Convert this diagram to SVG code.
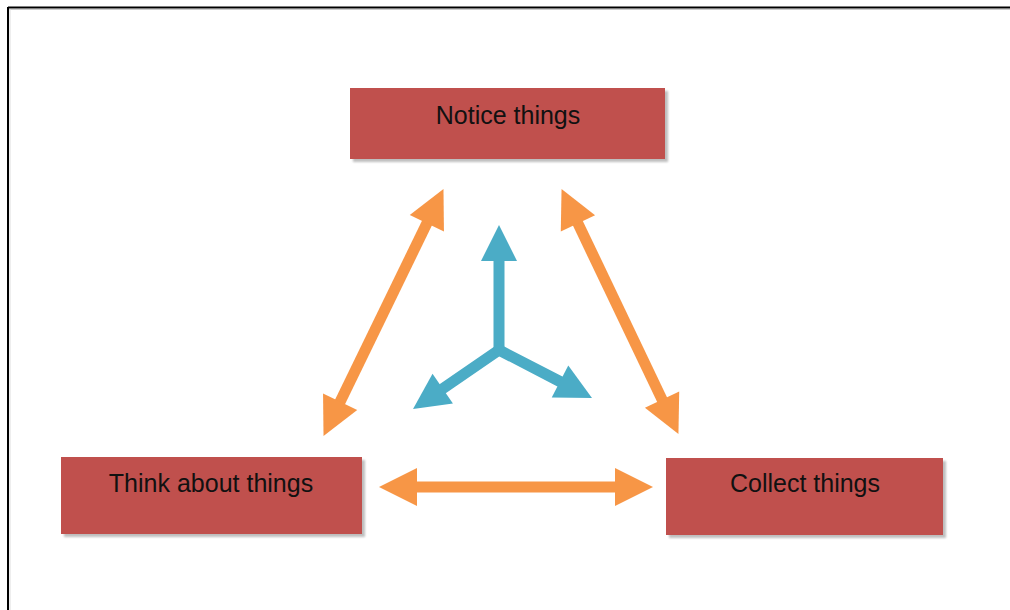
<svg xmlns="http://www.w3.org/2000/svg" width="1010" height="610" viewBox="0 0 1010 610">
  <style>
    .box { fill: #C0504D; }
    .shadow { fill: #8a8a8a; opacity: 0.55; }
    .label { font-family: "Liberation Sans", Arial, sans-serif; font-size: 25px; fill: #111; text-anchor: middle; }
    .orange { stroke: #F79646; stroke-width: 11; fill: none; marker-start: url(#headO); marker-end: url(#headO); }
    .blue { stroke: #4BACC6; stroke-width: 11; fill: none; stroke-linecap: round; marker-end: url(#headB); }
  </style>
  <defs>
    <marker id="headO" markerUnits="userSpaceOnUse" markerWidth="40" markerHeight="40" refX="0" refY="0" viewBox="0 -20 40 40" orient="auto-start-reverse" overflow="visible">
      <path d="M-1,-19 L37,0 L-1,19 z" fill="#F79646"/>
    </marker>
    <marker id="headB" markerUnits="userSpaceOnUse" markerWidth="40" markerHeight="40" refX="0" refY="0" viewBox="0 -20 40 40" orient="auto" overflow="visible">
      <path d="M-1,-18 L35,0 L-1,18 z" fill="#4BACC6"/>
    </marker>
    <filter id="blur" x="-10%" y="-10%" width="120%" height="130%">
      <feGaussianBlur stdDeviation="1.2"/>
    </filter>
  </defs>
  <rect x="0" y="0" width="1010" height="610" fill="#ffffff"/>
  <g id="frame">
    <line x1="8" y1="7.5" x2="1010" y2="7.5" stroke="#000" stroke-width="2"/>
    <line x1="8" y1="7" x2="8" y2="610" stroke="#000" stroke-width="2"/>
    <line x1="9" y1="9.5" x2="1010" y2="9.5" stroke="#ccc" stroke-width="1"/>
    <line x1="10" y1="9" x2="10" y2="610" stroke="#ddd" stroke-width="1"/>
  </g>
  <g id="connectors">
    <line class="orange" x1="427.3" y1="222.4" x2="339.7" y2="402.6"/>
    <line class="orange" x1="577.5" y1="222.5" x2="662.5" y2="400.5"/>
    <line class="orange" x1="416" y1="487" x2="616" y2="487"/>
    <path class="blue" d="M499,350 L499,260"/>
    <path class="blue" d="M499,350 L441.9,389.2"/>
    <path class="blue" d="M499,350 L560.9,382"/>
  </g>
  <g id="notice">
    <rect class="shadow" x="353" y="91" width="315" height="71" filter="url(#blur)"/>
    <rect class="box" x="350" y="88" width="315" height="71"/>
    <text class="label" x="508" y="124">Notice things</text>
  </g>
  <g id="think">
    <rect class="shadow" x="64" y="460" width="301" height="77" filter="url(#blur)"/>
    <rect class="box" x="61" y="457" width="301" height="77"/>
    <text class="label" x="211" y="492">Think about things</text>
  </g>
  <g id="collect">
    <rect class="shadow" x="669" y="461" width="277" height="77" filter="url(#blur)"/>
    <rect class="box" x="666" y="458" width="277" height="77"/>
    <text class="label" x="805" y="492">Collect things</text>
  </g>
</svg>
